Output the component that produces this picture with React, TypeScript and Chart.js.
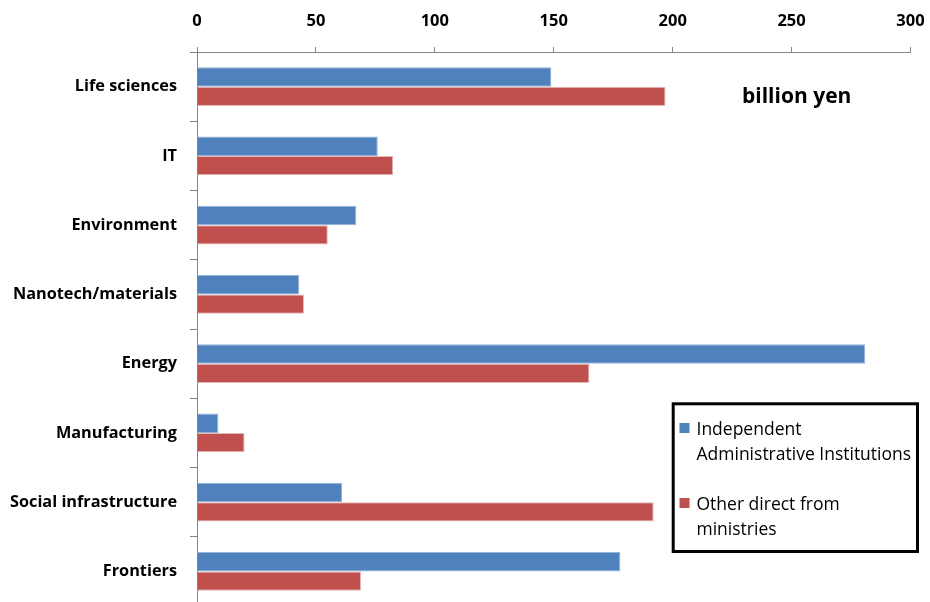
import React, { useEffect, useRef } from "react";
import { Chart, registerables } from "chart.js";

Chart.register(...registerables);

// Research funding by field, billion yen
const categories = [
  "Life sciences",
  "IT",
  "Environment",
  "Nanotech/materials",
  "Energy",
  "Manufacturing",
  "Social infrastructure",
  "Frontiers",
];

const independentInstitutions = [149, 76, 67, 43, 281, 9, 61, 178];
const otherDirectFromMinistries = [197, 82.5, 55, 45, 165, 20, 192, 69];

const seriesLabels = [
  ["Independent", "Administrative Institutions"],
  ["Other direct from", "ministries"],
];
const seriesColors = ["#4F81BD", "#C0504D"];
const seriesEdges = ["#95B3D7", "#E6B9B8"];

const xTicks = [0, 50, 100, 150, 200, 250, 300];
const unitLabel = "billion yen";

const FONT = "'Open Sans', 'Liberation Sans', sans-serif";
const AXIS_GREY = "#868686";

// Draws the unit note and the boxed legend with wrapped series names
const overlayPlugin = {
  id: "overlay",
  afterDraw(chart: Chart) {
    const ctx = chart.ctx;
    ctx.save();

    ctx.fillStyle = "#000";
    ctx.font = `bold 21px ${FONT}`;
    ctx.textAlign = "left";
    ctx.textBaseline = "middle";
    ctx.fillText(unitLabel, 742, 97);

    // legend frame
    ctx.strokeStyle = "#000";
    ctx.lineWidth = 3;
    ctx.strokeRect(673.2, 403.8, 244.3, 147.7);

    ctx.font = `17.5px ${FONT}`;
    ctx.textBaseline = "alphabetic";
    const firstBaseline = [434.5, 509.5];
    chart.data.datasets.forEach((ds: any, i: number) => {
      const base = firstBaseline[i];
      ctx.fillStyle = ds.backgroundColor;
      ctx.fillRect(679.5, base - 11.5, 10, 10);
      ctx.fillStyle = "#000";
      seriesLabels[i].forEach((line, j) => {
        ctx.fillText(line, 696.5, base + j * 25);
      });
    });

    ctx.restore();
  },
};

export default function App() {
  const canvasRef = useRef<HTMLCanvasElement | null>(null);

  useEffect(() => {
    document.body.style.margin = "0";
    document.body.style.overflow = "hidden";
    document.documentElement.style.overflow = "hidden";

    const canvas = canvasRef.current;
    if (!canvas) return;

    const chart = new Chart(canvas, {
      type: "bar",
      data: {
        labels: categories,
        datasets: [
          {
            label: seriesLabels[0].join(" "),
            data: independentInstitutions,
            backgroundColor: seriesColors[0],
            borderColor: seriesEdges[0],
            borderWidth: 1,
          },
          {
            label: seriesLabels[1].join(" "),
            data: otherDirectFromMinistries,
            backgroundColor: seriesColors[1],
            borderColor: seriesEdges[1],
            borderWidth: 1,
          },
        ],
      },
      options: {
        indexAxis: "y",
        responsive: false,
        animation: false,
        maintainAspectRatio: false,
        layout: { padding: { left: 0, top: 0, right: 19.5, bottom: 2 } },
        datasets: {
          bar: { categoryPercentage: 0.563, barPercentage: 1.0 },
        },
        plugins: {
          legend: { display: false },
          tooltip: { enabled: false },
          title: { display: false },
        },
        scales: {
          x: {
            position: "top",
            min: xTicks[0],
            max: xTicks[xTicks.length - 1],
            afterBuildTicks(scale: any) {
              scale.ticks = xTicks.map((v) => ({ value: v }));
            },
            afterFit(scale: any) {
              scale.height = 52;
              scale.paddingLeft = 0;
              scale.paddingRight = 0;
            },
            grid: {
              drawOnChartArea: false,
              drawTicks: true,
              tickLength: 5,
              color: AXIS_GREY,
              lineWidth: 1,
            },
            border: { display: true, color: AXIS_GREY, width: 1 },
            ticks: {
              padding: 16,
              color: "#000",
              font: { family: FONT, size: 16.5, weight: "bold" },
            },
          },
          y: {
            afterFit(scale: any) {
              scale.width = 197;
              scale.paddingTop = 0;
              scale.paddingBottom = 0;
            },
            grid: {
              offset: true,
              drawOnChartArea: false,
              drawTicks: true,
              tickLength: 7,
              color: AXIS_GREY,
              lineWidth: 1,
            },
            border: { display: true, color: AXIS_GREY, width: 1 },
            ticks: {
              padding: 13,
              color: "#000",
              autoSkip: false,
              font: { family: FONT, size: 16.3, weight: "bold" },
            },
          },
        },
      },
      plugins: [overlayPlugin],
    } as any);

    return () => chart.destroy();
  }, []);

  return (
    <div style={{ width: 930, height: 608, background: "#fff" }}>
      <canvas ref={canvasRef} width={930} height={608} style={{ display: "block" }} />
    </div>
  );
}
